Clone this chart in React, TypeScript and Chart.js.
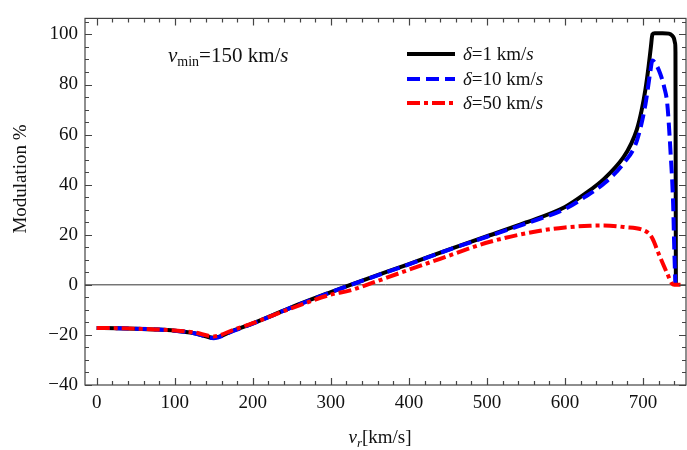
import React, { useEffect, useRef } from 'react';
import { Chart, registerables } from 'chart.js';
Chart.register(...registerables);

const FONT = "'Liberation Serif', 'Times New Roman', serif";

// ---- data ----
const vrD1 = [0, 25, 50, 75, 100, 125, 150, 175, 200, 250, 300, 325, 350, 400, 450, 500, 550, 600, 625, 650, 675, 685, 692, 698, 703, 707, 710, 712, 715, 725, 733, 737, 739.5, 741, 741.5, 742];
const modD1 = [-17.2, -17.3, -17.5, -17.8, -18.3, -19.3, -21.1, -18.3, -15.4, -8.9, -2.9, 0, 2.8, 8.3, 14.0, 19.4, 24.9, 31.1, 36.2, 42.3, 51, 56.5, 62, 69.5, 78, 87, 95, 100, 100.5, 100.5, 100.3, 99.6, 98.5, 96.5, 93, 0];

const vrD10 = [0, 25, 50, 75, 100, 125, 150, 175, 200, 250, 300, 325, 350, 400, 450, 500, 550, 600, 625, 650, 675, 692, 703, 709, 712, 717, 722, 727, 731, 735, 738.5, 740, 741.4];
const modD10 = [-17.2, -17.3, -17.5, -17.8, -18.3, -19.3, -21.3, -18.4, -15.5, -9.0, -3.0, -0.1, 2.7, 8.2, 13.9, 19.2, 24.5, 30.3, 35.0, 40.5, 48.5, 57.5, 72, 84.5, 89.6, 87.8, 84.3, 79, 72.3, 54, 32.4, 14, 0];

const vrD50 = [0, 25, 50, 75, 100, 125, 150, 175, 200, 250, 300, 325, 346, 389, 440, 504, 568, 600, 632, 650, 675, 705, 712, 720, 726, 731, 737, 740, 748];
const modD50 = [-17.2, -17.3, -17.5, -17.8, -18.2, -19.0, -20.6, -18.0, -15.3, -9.3, -3.9, -2.2, 0, 4.8, 10.4, 17.2, 21.6, 22.9, 23.6, 23.7, 23.1, 21.1, 18.5, 12.4, 8, 4.5, 0.5, 0, 0];

const xTickValues = [0, 100, 200, 300, 400, 500, 600, 700];
const yTickValues = [-40, -20, 0, 20, 40, 60, 80, 100];
const legendLabels = ['1', '10', '50'];

const toPts = (xs: number[], ys: number[]) => xs.map((x, i) => ({ x, y: ys[i] }));
const fmt = (v: number) => (v < 0 ? '\u2212' + Math.abs(v) : String(v));

type Part = { t: string; f: string; dy?: number };
function drawRich(ctx: CanvasRenderingContext2D, parts: Part[], x: number, y: number, align: 'left' | 'center') {
  let total = 0;
  for (const p of parts) { ctx.font = p.f; total += ctx.measureText(p.t).width; }
  let cx = align === 'center' ? x - total / 2 : x;
  ctx.textAlign = 'left';
  ctx.textBaseline = 'alphabetic';
  for (const p of parts) {
    ctx.font = p.f;
    ctx.fillText(p.t, cx, y + (p.dy || 0));
    cx += ctx.measureText(p.t).width;
  }
}

const framePlugin = {
  id: 'mmaFrame',
  beforeDatasetsDraw(chart: any) {
    const { ctx, chartArea, scales } = chart;
    const y0 = scales.y.getPixelForValue(0);
    ctx.save();
    ctx.strokeStyle = '#333';
    ctx.lineWidth = 1;
    ctx.beginPath();
    ctx.moveTo(chartArea.left, y0);
    ctx.lineTo(chartArea.right, y0);
    ctx.stroke();
    ctx.restore();
  },
  afterDraw(chart: any) {
    const { ctx, chartArea, scales } = chart;
    const { left, right, top, bottom } = chartArea;
    ctx.save();
    ctx.strokeStyle = '#444';
    ctx.lineWidth = 1.2;
    ctx.beginPath();
    for (let v = 0; v <= 740; v += 20) {
      const px = Math.round(scales.x.getPixelForValue(v)) + 0.5;
      const len = v % 100 === 0 ? 7 : 4;
      ctx.moveTo(px, bottom); ctx.lineTo(px, bottom - len);
      ctx.moveTo(px, top); ctx.lineTo(px, top + len);
    }
    for (let v = -40; v <= 105; v += 5) {
      const py = Math.round(scales.y.getPixelForValue(v)) + 0.5;
      const len = v % 20 === 0 ? 7 : 4;
      ctx.moveTo(left, py); ctx.lineTo(left + len, py);
      ctx.moveTo(right, py); ctx.lineTo(right - len, py);
    }
    ctx.stroke();
    ctx.strokeRect(left, top, right - left, bottom - top);

    ctx.fillStyle = '#111';
    // y title
    ctx.save();
    ctx.translate(26, 179);
    ctx.rotate(-Math.PI / 2);
    drawRich(ctx, [{ t: 'Modulation %', f: `19px ${FONT}` }], 0, 0, 'center');
    ctx.restore();
    // x title
    drawRich(ctx, [
      { t: 'v', f: `italic 19px ${FONT}` },
      { t: 'r', f: `italic 13px ${FONT}`, dy: 4 },
      { t: '[km/s]', f: `19px ${FONT}` },
    ], 380, 443, 'center');
    // annotation
    drawRich(ctx, [
      { t: 'v', f: `italic 21px ${FONT}` },
      { t: 'min', f: `14px ${FONT}`, dy: 4 },
      { t: '=150 km/', f: `21px ${FONT}` },
      { t: 's', f: `italic 21px ${FONT}` },
    ], 168, 62, 'left');

    // legend
    const styles = [
      { c: '#000', d: [] as number[] },
      { c: '#0000ff', d: [13, 6] },
      { c: '#ff0000', d: [13, 4, 4, 4] },
    ];
    const rows = [54, 79, 103];
    styles.forEach((s, i) => {
      ctx.save();
      ctx.strokeStyle = s.c;
      ctx.lineWidth = 4;
      ctx.setLineDash(s.d);
      ctx.beginPath();
      ctx.moveTo(407, rows[i]);
      ctx.lineTo(455, rows[i]);
      ctx.stroke();
      ctx.restore();
      drawRich(ctx, [
        { t: 'δ', f: `italic 19px ${FONT}` },
        { t: `=${legendLabels[i]} km/`, f: `19px ${FONT}` },
        { t: 's', f: `italic 19px ${FONT}` },
      ], 463, rows[i] + 6, 'left');
    });
    ctx.restore();
  },
};

export default function App() {
  const ref = useRef<HTMLCanvasElement | null>(null);
  useEffect(() => {
    if (!ref.current) return;
    const chart = new Chart(ref.current, {
      type: 'line',
      data: {
        datasets: [
          { label: 'δ=1 km/s', data: toPts(vrD1, modD1), borderColor: '#000', borderWidth: 4, order: 3 },
          { label: 'δ=10 km/s', data: toPts(vrD10, modD10), borderColor: '#0000ff', borderWidth: 4, borderDash: [13, 6], order: 2 },
          { label: 'δ=50 km/s', data: toPts(vrD50, modD50), borderColor: '#ff0000', borderWidth: 4, borderDash: [13, 4, 4, 4], order: 1 },
        ] as any,
      },
      options: {
        animation: false,
        responsive: false,
        devicePixelRatio: 1,
        layout: { padding: { left: 0, right: 1, top: 18, bottom: 0 } },
        elements: { point: { radius: 0 }, line: { cubicInterpolationMode: 'monotone', fill: false } },
        plugins: { legend: { display: false }, tooltip: { enabled: false } },
        scales: {
          x: {
            type: 'linear',
            min: -15,
            max: 755,
            afterBuildTicks: (s: any) => { s.ticks = xTickValues.map((v) => ({ value: v })); },
            afterFit: (s: any) => { s.height = 65; },
            grid: { display: false, drawTicks: false },
            border: { display: false },
            ticks: { font: { family: FONT, size: 19 }, color: '#111', padding: 7, maxRotation: 0, autoSkip: false, callback: (v: number) => fmt(v) },
          },
          y: {
            type: 'linear',
            min: -40,
            max: 106.4,
            afterBuildTicks: (s: any) => { s.ticks = yTickValues.map((v) => ({ value: v })); },
            afterFit: (s: any) => { s.width = 85; },
            grid: { display: false, drawTicks: false },
            border: { display: false },
            ticks: { font: { family: FONT, size: 19 }, color: '#111', padding: 7, callback: (v: number) => fmt(v) },
          },
        },
      } as any,
      plugins: [framePlugin],
    });
    return () => chart.destroy();
  }, []);
  return (
    <div style={{ position: 'fixed', left: 0, top: 0, width: 687, height: 450, background: '#fff' }}>
      <canvas ref={ref} width={687} height={450} style={{ width: 687, height: 450 }} />
    </div>
  );
}
